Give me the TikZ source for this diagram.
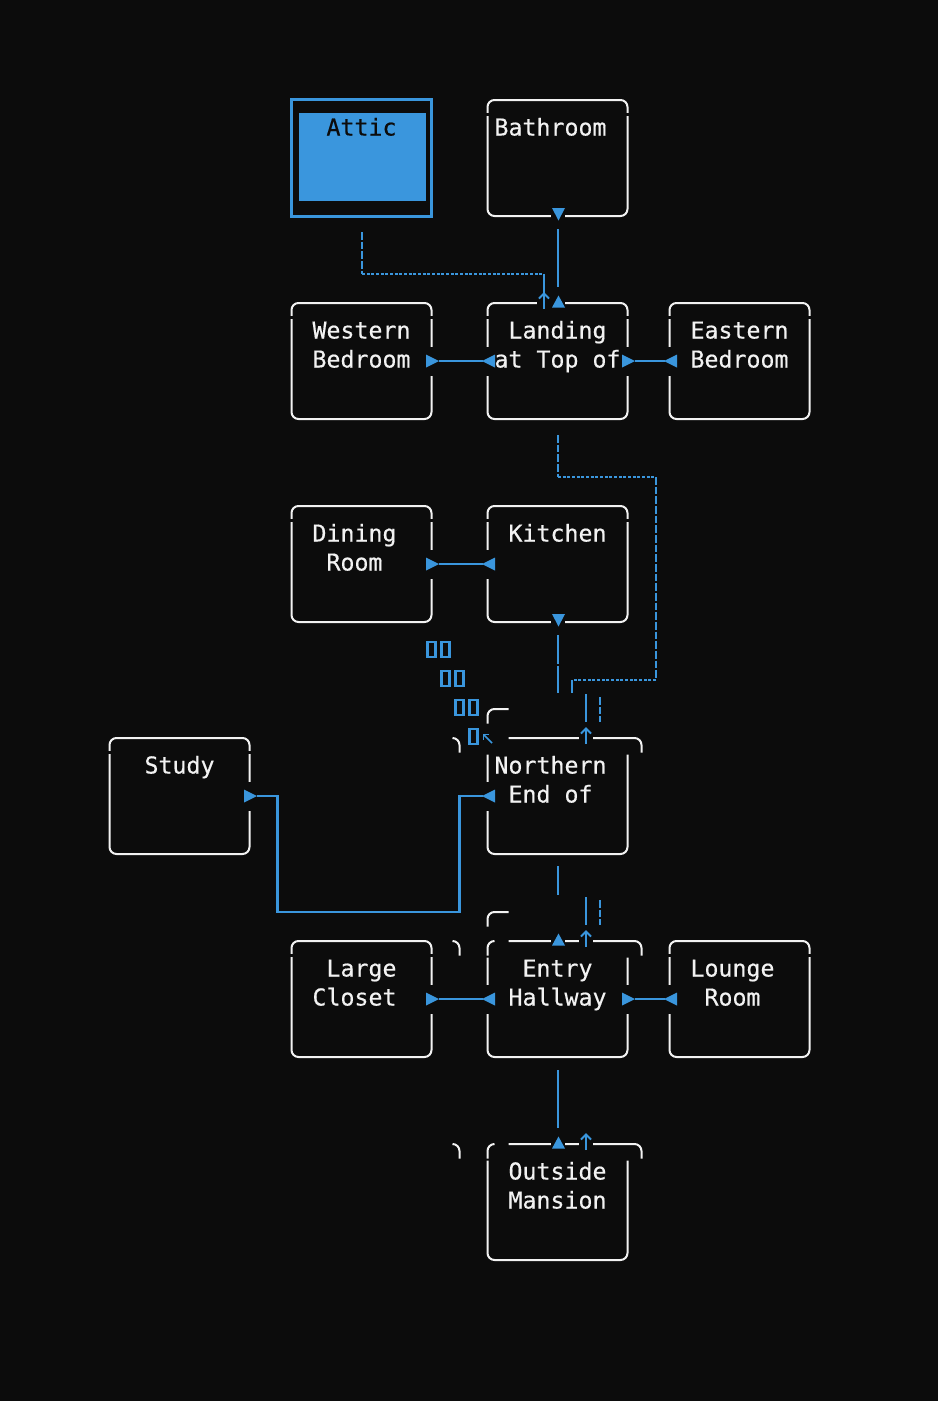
\documentclass[tikz,border=0pt]{standalone}
\usepackage{fontspec}
\newfontfamily\termfont[FakeBold=0.45]{DejaVu Sans Mono}
\usetikzlibrary{calc}
\definecolor{bgc}{HTML}{0C0C0C}
\definecolor{blu}{HTML}{3A96DD}
\definecolor{fg}{HTML}{F2F2F2}
\pgfmathdeclarefunction{cx}{1}{\pgfmathparse{109.5+14*#1}}
\pgfmathdeclarefunction{cy}{1}{\pgfmathparse{100+29*#1}}
\tikzset{
  room/.style={draw=fg, line width=2pt, rounded corners=7pt, minimum width=140pt, minimum height=116pt, inner sep=0pt, outer sep=0pt},
  ghost/.style={minimum width=140pt, minimum height=116pt, inner sep=0pt, outer sep=0pt},
  txt/.style={font={\termfont\fontsize{23.26pt}{29pt}\selectfont}, text=fg, inner sep=0pt, outer sep=0pt, anchor=base west},
  wline/.style={draw=fg, line width=2pt, rounded corners=7pt},
  conn/.style={draw=blu, line width=2.6pt},
  thin/.style={draw=blu, line width=2pt},
  dotH/.style={draw=blu, line width=2pt, dash pattern=on 3pt off 1.67pt},
  dashV/.style={draw=blu, line width=2pt, dash pattern=on 7.5pt off 2.17pt},
  triR/.pic={\fill[blu] (-5.5,-6.5) -- (-5.5,6.5) -- (7.5,0) -- cycle;},
  triL/.pic={\fill[blu] (7.5,-6.5) -- (7.5,6.5) -- (-5.5,0) -- cycle;},
  triU/.pic={\fill[blu] (-5.5,4.5) -- (7.5,4.5) -- (1,-7.5) -- cycle;},
  triD/.pic={\fill[blu] (-5.5,-8) -- (7.5,-8) -- (1,4.5) -- cycle;},
  upar/.pic={\draw[blu, line width=2pt] (0.5,6) -- (0.5,-9.5); \draw[blu, line width=2pt] (-4.5,-4.5) -- (0.5,-9.5) -- (5.5,-4.5);},
  nwar/.pic={\draw[blu, line width=1.5pt] (4.5,5) -- (-4,-3.5); \draw[blu, line width=1.5pt] (1.5,-3.5) -- (-4,-3.5) -- (-4,2);},
  tofu/.pic={\draw[blu, line width=2.3pt] (-4,-9) rectangle (4,6);},
}
\newcommand\topgap[1]{\fill[bgc] ($(#1.north west)+(-2.5,13)$) rectangle ++(5,3);\fill[bgc] ($(#1.north east)+(-2.5,13)$) rectangle ++(5,3);}
\newcommand\sidegap[1]{\fill[bgc] ($(#1)+(-2.5,-14.5)$) rectangle ++(5,29);}
\newcommand\hgap[1]{\fill[bgc] ($(#1)+(-7,-2.5)$) rectangle ++(14,5);}
\begin{document}
\begin{tikzpicture}[x=1pt,y=-1pt]
\fill[bgc] (0,0) rectangle (938,1401);
\useasboundingbox (0,0) rectangle (938,1401);

% ---------- rooms ----------
\node[ghost] (attic) at ({cx(18)},{cy(2)}) {};
\draw[blu, line width=3.4pt] (291.7,99.7) rectangle (431.3,216.3);
\fill[blu] (298.5,112.5) rectangle (425.5,200.5);
\node[room] (bath) at ({cx(32)},{cy(2)}) {};
\node[room] (west) at ({cx(18)},{cy(9)}) {};
\node[room] (land) at ({cx(32)},{cy(9)}) {};
\node[room] (east) at ({cx(45)},{cy(9)}) {};
\node[room] (dine) at ({cx(18)},{cy(16)}) {};
\node[room] (kitch) at ({cx(32)},{cy(16)}) {};
\node[room] (study) at ({cx(5)},{cy(24)}) {};
\node[ghost] (north) at ({cx(32)},{cy(24)}) {};
\node[room] (large) at ({cx(18)},{cy(31)}) {};
\node[ghost] (entry) at ({cx(32)},{cy(31)}) {};
\node[room] (lounge) at ({cx(45)},{cy(31)}) {};
\node[ghost] (outside) at ({cx(32)},{cy(38)}) {};

\foreach \b in {bath,west,land,east,dine,kitch,study,large,lounge} {\topgap{\b}}

% Northern End (misaligned top)
\draw[wline] ({cx(27)},{cy(21)+14.5}) -- ({cx(27)},{cy(21)}) -- ({cx(28)+7},{cy(21)});
\draw[wline] ({cx(25)-7},{cy(22)}) -- ({cx(25)},{cy(22)}) -- ({cx(25)},{cy(22)+14.5});
\draw[wline] ({cx(28)+7},{cy(22)}) -- ({cx(38)},{cy(22)}) -- ({cx(38)},{cy(22)+14.5});
\draw[wline] ({cx(27)},{cy(22)+16.5}) -- ({cx(27)},{cy(26)}) -- ({cx(37)},{cy(26)}) -- ({cx(37)},{cy(22)+16.5});
% Entry Hallway
\draw[wline] ({cx(27)},{cy(28)+14.5}) -- ({cx(27)},{cy(28)}) -- ({cx(28)+7},{cy(28)});
\draw[wline] ({cx(25)-7},{cy(29)}) -- ({cx(25)},{cy(29)}) -- ({cx(25)},{cy(29)+14.5});
\draw[wline] ({cx(27)},{cy(29)+14.5}) -- ({cx(27)},{cy(29)}) -- ({cx(27)+7},{cy(29)});
\draw[wline] ({cx(28)+7},{cy(29)}) -- ({cx(38)},{cy(29)}) -- ({cx(38)},{cy(29)+14.5});
\draw[wline] ({cx(27)},{cy(29)+16.5}) -- ({cx(27)},{cy(33)}) -- ({cx(37)},{cy(33)}) -- ({cx(37)},{cy(29)+16.5});
% Outside Mansion
\draw[wline] ({cx(25)-7},{cy(36)}) -- ({cx(25)},{cy(36)}) -- ({cx(25)},{cy(36)+14.5});
\draw[wline] ({cx(27)},{cy(36)+14.5}) -- ({cx(27)},{cy(36)}) -- ({cx(27)+7},{cy(36)});
\draw[wline] ({cx(28)+7},{cy(36)}) -- ({cx(38)},{cy(36)}) -- ({cx(38)},{cy(36)+14.5});
\draw[wline] ({cx(27)},{cy(36)+16.5}) -- ({cx(27)},{cy(40)}) -- ({cx(37)},{cy(40)}) -- ({cx(37)},{cy(36)+16.5});

% gaps where glyphs replace border cells
\foreach \p in {west.east,land.west,land.east,east.west,dine.east,kitch.west,study.east,north.west,large.east,entry.west,entry.east,lounge.west} {\sidegap{\p}}
\fill[bgc] ({cx(31)-7},{cy(7)-2.5}) rectangle ({cx(32)+7},{cy(7)+2.5});
\hgap{bath.south}
\hgap{kitch.south}
\hgap{entry.north}
\hgap{outside.north}
\fill[bgc] ({cx(34)-7},{cy(22)-2.5}) rectangle ({cx(34)+7},{cy(22)+2.5});
\fill[bgc] ({cx(34)-7},{cy(29)-2.5}) rectangle ({cx(34)+7},{cy(29)+2.5});
\fill[bgc] ({cx(34)-7},{cy(36)-2.5}) rectangle ({cx(34)+7},{cy(36)+2.5});

% ---------- texts ----------
\node[txt, text=bgc] (tAttic) at ({cx(16)-7},{cy(1)+6.5}) {Attic};
\node[txt] (tBath) at ({cx(28)-7},{cy(1)+6.5}) {Bathroom};
\node[txt] (tWest1) at ({cx(15)-7},{cy(8)+6.5}) {Western};
\node[txt] (tWest2) at ({cx(15)-7},{cy(9)+6.5}) {Bedroom};
\node[txt] (tLand1) at ({cx(29)-7},{cy(8)+6.5}) {Landing};
\node[txt] (tLand2) at ({cx(28)-7},{cy(9)+6.5}) {at Top of};
\node[txt] (tEast1) at ({cx(42)-7},{cy(8)+6.5}) {Eastern};
\node[txt] (tEast2) at ({cx(42)-7},{cy(9)+6.5}) {Bedroom};
\node[txt] (tDine1) at ({cx(15)-7},{cy(15)+6.5}) {Dining};
\node[txt] (tDine2) at ({cx(16)-7},{cy(16)+6.5}) {Room};
\node[txt] (tKitch) at ({cx(29)-7},{cy(15)+6.5}) {Kitchen};
\node[txt] (tStudy) at ({cx(3)-7},{cy(23)+6.5}) {Study};
\node[txt] (tNorth1) at ({cx(28)-7},{cy(23)+6.5}) {Northern};
\node[txt] (tNorth2) at ({cx(29)-7},{cy(24)+6.5}) {End of};
\node[txt] (tLarge1) at ({cx(16)-7},{cy(30)+6.5}) {Large};
\node[txt] (tLarge2) at ({cx(15)-7},{cy(31)+6.5}) {Closet};
\node[txt] (tEntry1) at ({cx(30)-7},{cy(30)+6.5}) {Entry};
\node[txt] (tEntry2) at ({cx(29)-7},{cy(31)+6.5}) {Hallway};
\node[txt] (tLounge1) at ({cx(42)-7},{cy(30)+6.5}) {Lounge};
\node[txt] (tLounge2) at ({cx(43)-7},{cy(31)+6.5}) {Room};
\node[txt] (tOut1) at ({cx(29)-7},{cy(37)+6.5}) {Outside};
\node[txt] (tOut2) at ({cx(29)-7},{cy(38)+6.5}) {Mansion};

% ---------- horizontal connectors ----------
\draw[conn] ($(west.east)+(7,0)$) -- ($(land.west)+(-5,0)$);
\pic at (west.east) {triR}; \pic at (land.west) {triL};
\draw[conn] ($(land.east)+(7,0)$) -- ($(east.west)+(-5,0)$);
\pic at (land.east) {triR}; \pic at (east.west) {triL};
\draw[conn] ($(dine.east)+(7,0)$) -- ($(kitch.west)+(-5,0)$);
\pic at (dine.east) {triR}; \pic at (kitch.west) {triL};
\draw[conn] ($(large.east)+(7,0)$) -- ($(entry.west)+(-5,0)$);
\pic at (large.east) {triR}; \pic at (entry.west) {triL};
\draw[conn] ($(entry.east)+(7,0)$) -- ($(lounge.west)+(-5,0)$);
\pic at (entry.east) {triR}; \pic at (lounge.west) {triL};
% Study <-> Northern
\draw[conn] ($(study.east)+(7,0)$) -- ({cx(12)},{cy(24)}) -- ({cx(12)},{cy(28)}) -- ({cx(25)},{cy(28)}) -- ({cx(25)},{cy(24)}) -- ($(north.west)+(-5,0)$);
\pic at (study.east) {triR}; \pic at (north.west) {triL};

% ---------- vertical connectors ----------
% Bathroom -> Landing
\pic at (bath.south) {triD};
\draw[conn] ($(bath.south)+(0.5,13)$) -- ($(land.north)+(0.5,-16)$);
\pic at (land.north) {triU};
% Attic -> Landing (dotted)
\draw[dashV] ($(attic.south)+(0.5,16)$) -- ({cx(18)+0.5},{cy(6)});
\draw[dotH] ({cx(18)+0.5},{cy(6)}) -- ({cx(31)+0.5},{cy(6)});
\draw[thin] ({cx(31)+0.5},{cy(6)}) -- ({cx(31)+0.5},{cy(7)-9});
\pic at ({cx(31)},{cy(7)}) {upar};
% Landing -> Northern (dotted)
\draw[dashV] ($(land.south)+(0.5,16)$) -- ({cx(32)+0.5},{cy(13)});
\draw[dotH] ({cx(32)+0.5},{cy(13)}) -- ({cx(39)+0.5},{cy(13)});
\draw[dashV] ({cx(39)+0.5},{cy(13)}) -- ({cx(39)+0.5},{cy(20)});
\draw[dotH] ({cx(39)+0.5},{cy(20)}) -- ({cx(33)+0.5},{cy(20)});
\draw[thin] ({cx(33)+0.5},{cy(20)}) -- ({cx(33)+0.5},{cy(20)+13});
% Kitchen -> Northern
\pic at (kitch.south) {triD};
\draw[conn] ($(kitch.south)+(0.5,13)$) -- ($(kitch.south)+(0.5,42)$);
\draw[conn] ($(kitch.south)+(0.5,44)$) -- ($(kitch.south)+(0.5,71)$);
\draw[conn] ({cx(34)+0.5},{cy(21)-15}) -- ({cx(34)+0.5},{cy(21)+13});
\draw[dashV] ({cx(35)+0.5},{cy(21)-12}) -- ({cx(35)+0.5},{cy(21)+13});
\pic at ({cx(34)},{cy(22)}) {upar};
% Northern -> Entry
\draw[conn] ($(north.south)+(0.5,12)$) -- ($(north.south)+(0.5,41)$);
\draw[conn] ({cx(34)+0.5},{cy(28)-15}) -- ({cx(34)+0.5},{cy(28)+13});
\draw[dashV] ({cx(35)+0.5},{cy(28)-12}) -- ({cx(35)+0.5},{cy(28)+13});
\pic at (entry.north) {triU};
\pic at ({cx(34)},{cy(29)}) {upar};
% Entry -> Outside
\draw[conn] ($(entry.south)+(0.5,13)$) -- ($(outside.north)+(0.5,-16)$);
\pic at (outside.north) {triU};
\pic at ({cx(34)},{cy(36)}) {upar};

% ---------- missing-glyph boxes ----------
\foreach \c/\r in {23/19,24/19,24/20,25/20,25/21,26/21,26/22} {\pic at ({cx(\c)},{cy(\r)}) {tofu};}
\pic at ({cx(27)},{cy(22)}) {nwar};
\end{tikzpicture}
\end{document}
